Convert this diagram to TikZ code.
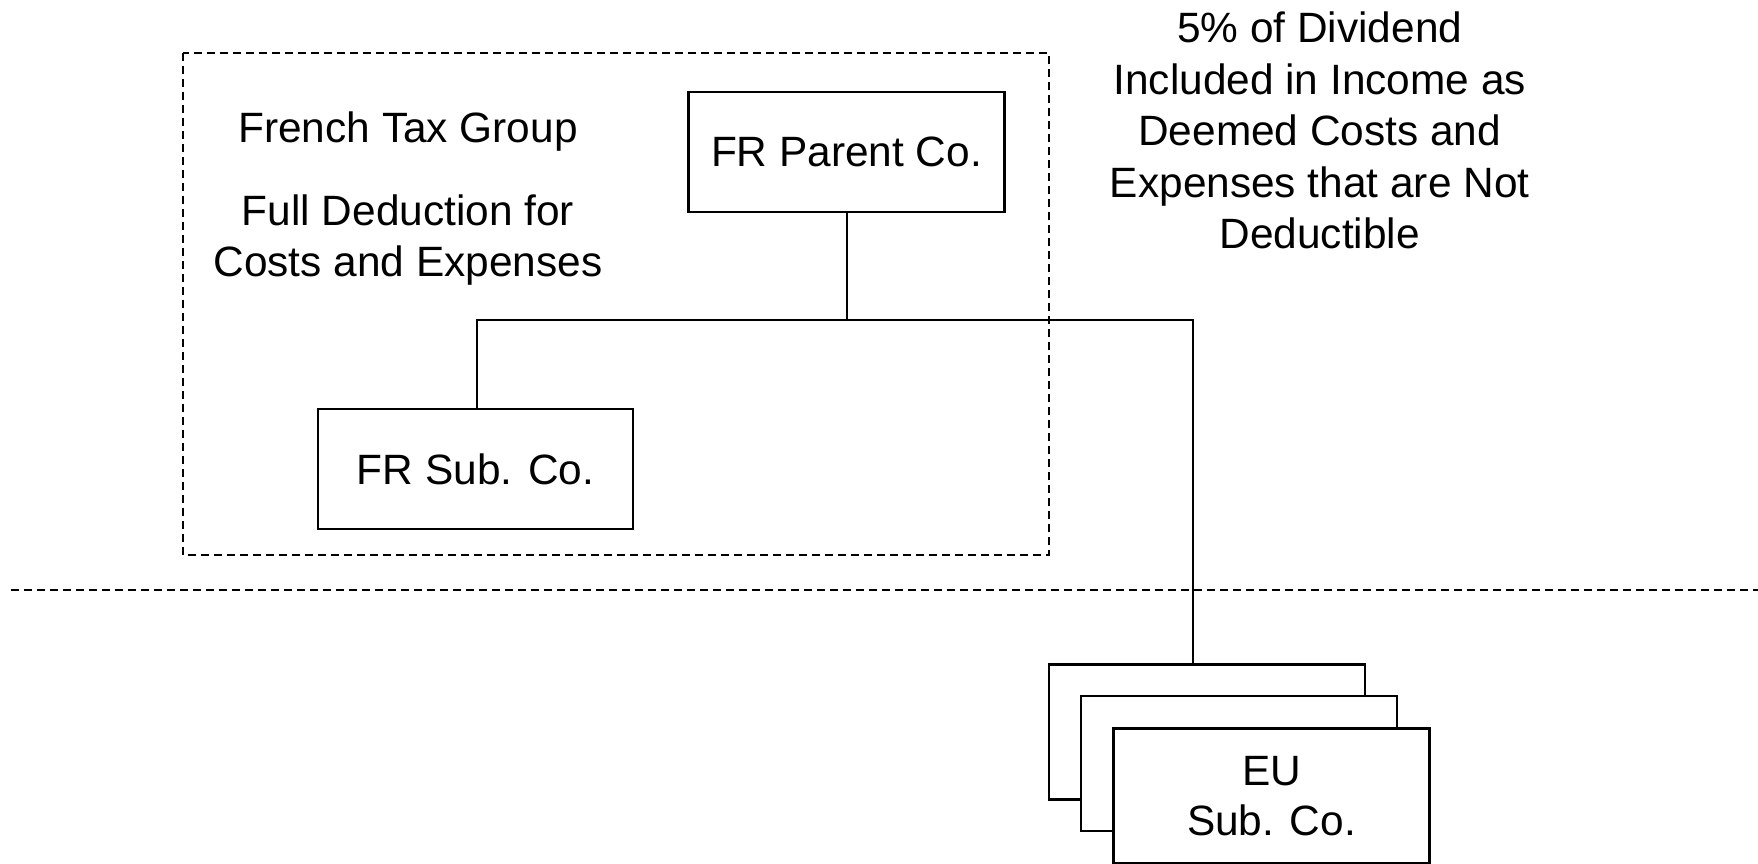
\documentclass[tikz,border=0pt]{standalone}
\usepackage{fontspec}
\setmainfont{Liberation Sans}
\begin{document}
\begin{tikzpicture}[x=1pt,y=-1pt,
  box/.style={draw,line width=2.4pt,fill=white,inner sep=0pt,outer sep=0pt,minimum width=316pt,align=center},
  conn/.style={line width=2pt},
  dashline/.style={line width=1.6pt,dash pattern=on 8pt off 5pt},
  lbl/.style={align=center,inner sep=0pt,font=\fontsize{42.4}{51.5}\selectfont}]
\useasboundingbox (0,0) rectangle (1758,863);
% tax group boundary
\draw[dashline] (183,53) rectangle (1049,555);
% border line
\coordinate (bl) at (11,590);
\coordinate (br) at (1758,590);
\draw[dashline] (bl) -- (br);
% nodes
\node[box,minimum height=120pt,font=\fontsize{42.4}{51.5}\selectfont] (parent) at (846.5,152) {FR Parent Co.};
\node[box,minimum height=120pt,minimum width=315pt,font=\fontsize{42.4}{51.5}\selectfont] (sub) at (475.5,469) {FR Sub. Co.};
\node[box,minimum height=135pt] (eu1) at (1207,732) {};
\node[box,minimum height=135pt] (eu2) at (1239,763.5) {};
\node[box,minimum height=135pt,font=\fontsize{42.4}{50.5}\selectfont] (eu3) at (1271.5,796) {EU\\Sub. Co.};
% texts
\node[lbl] (ftg) at (408,132) {French Tax Group};
\node[lbl] (fdc) at (408,240) {Full Deduction for\\Costs and Expenses};
\node[lbl] (div) at (1319.7,130.5) {5\% of Dividend\\Included in Income as\\Deemed Costs and\\Expenses that are Not\\Deductible};
% connectors
\coordinate (j) at (846.5,320);
\coordinate (jl) at (476.5,320);
\coordinate (jr) at (1193,320);
\draw[conn] (parent.south) -- (j);
\draw[conn] (sub.north -| jl) -- (jl) -- (jr) -- (jr |- eu1.north);
\end{tikzpicture}
\end{document}
